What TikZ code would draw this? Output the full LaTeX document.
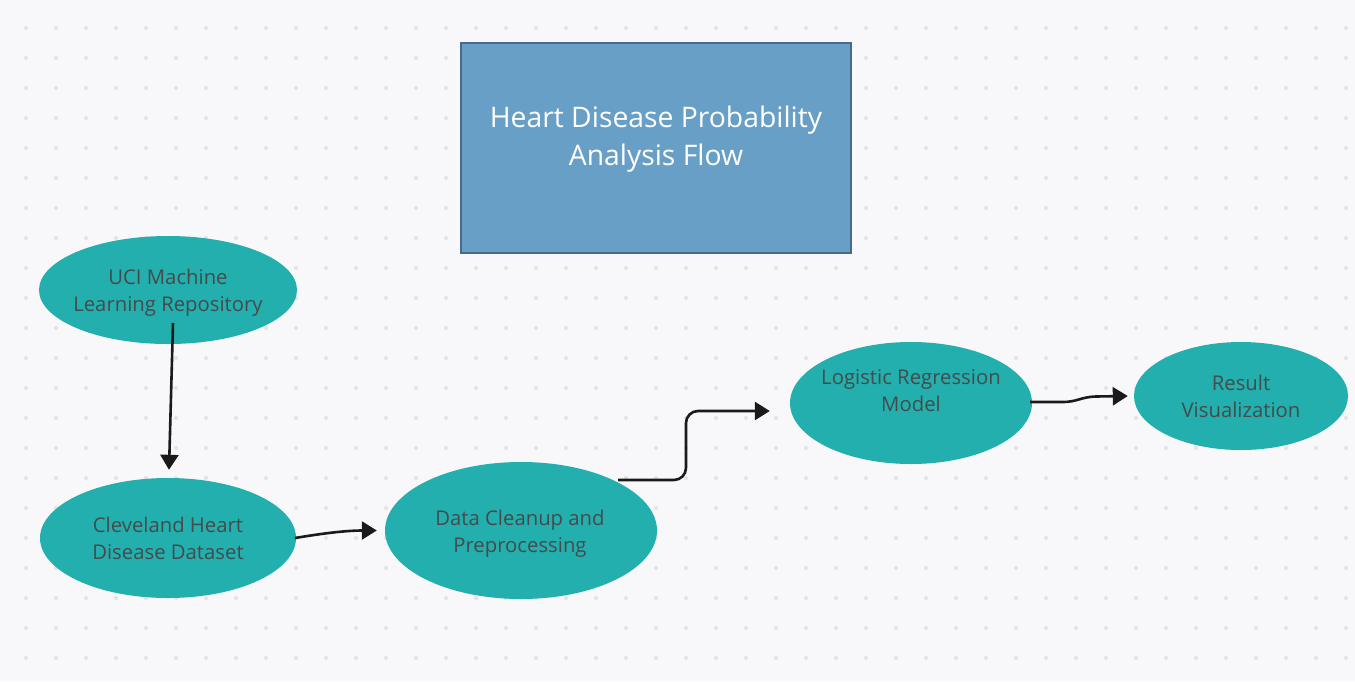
\documentclass[tikz,border=0pt]{standalone}
\usepackage{fontspec}
\setmainfont{Open Sans}
\usetikzlibrary{shapes.geometric,arrows.meta,calc}
\definecolor{bg}{HTML}{F8F8FB}
\definecolor{dotc}{HTML}{E4E4E8}
\definecolor{teal}{HTML}{22AFAE}
\definecolor{titlefill}{HTML}{689FC6}
\definecolor{titledraw}{HTML}{476A8C}
\definecolor{txt}{HTML}{454B4B}
\definecolor{arr}{HTML}{1A1A1A}
\tikzset{
  oval/.style={ellipse, fill=teal, draw=none, inner sep=0pt},
  ovaltext/.style={inner sep=0pt, align=center, text=txt,
    font=\fontsize{20.3}{27}\selectfont},
  titlebox/.style={rectangle, fill=titlefill, draw=titledraw, line width=2pt, inner sep=0pt},
  flow/.style={draw=arr, line width=2.6pt, -{Triangle[length=15pt,width=18pt]}},
}
\begin{document}
\begin{tikzpicture}[x=1pt,y=-1pt]
\fill[bg] (0,0) rectangle (1355,681);
\useasboundingbox (0,0) rectangle (1355,681);
\foreach \i in {0,...,44}{
  \foreach \j in {0,...,22}{
    \fill[dotc] (26+30*\i,28+30*\j) circle (2.1pt);
  }
}
% title
\node[titlebox, minimum width=390pt, minimum height=210pt] (title) at (655.5,147.5) {};
\node[text=white, align=center, font=\fontsize{28.3}{38}\selectfont] (titletext) at (656,139) {Heart Disease Probability\\Analysis Flow};
% ellipses
\node[oval, minimum width=258pt, minimum height=108pt] (uci) at (168,290) {};
\node[ovaltext] (ucit) at (168,293) {UCI Machine\\Learning Repository};
\node[oval, minimum width=256pt, minimum height=120pt] (cle) at (168,538) {};
\node[ovaltext] (clet) at (168,538) {Cleveland Heart\\Disease Dataset};
\node[oval, minimum width=272pt, minimum height=137pt] (dat) at (521,530.5) {};
\node[ovaltext] (datt) at (520,534) {Data Cleanup and\\Preprocessing};
\node[oval, minimum width=242pt, minimum height=122pt] (log) at (911,403) {};
\node[ovaltext] (logt) at (911,391) {Logistic Regression\\Model};
\node[oval, minimum width=214pt, minimum height=108pt] (res) at (1241,396) {};
\node[ovaltext] (rest) at (1241,396) {Result\\Visualization};
% connectors
\coordinate (a1s) at ($(uci.center)+(5,33)$);
\coordinate (a1e) at ($(cle.north)+(1,-8)$);
\draw[flow] (a1s) -- (a1e);
\coordinate (a2s) at ($(cle.center)+(127,0)$);
\coordinate (a2e) at ($(dat.west)+(-8,0)$);
\draw[flow] (a2s) .. controls ($(a2s)+(30,-5)$) and ($(a2e)+(-30,0)$) .. (a2e);
\coordinate (a3s) at ($(dat.center)+(97,-50.5)$);
\coordinate (a3e) at ($(log.west)+(-20,8)$);
\draw[flow, rounded corners=12pt] (a3s) -- (686,480) -- (686,411) -- (a3e);
\coordinate (a4s) at ($(log.east)+(-2,-1)$);
\coordinate (a4e) at ($(res.west)+(-6,0)$);
\draw[flow] (a4s) -- (1062,402) .. controls (1078,402) and (1080,397) .. (1096,396.5) -- (a4e);
\end{tikzpicture}
\end{document}
